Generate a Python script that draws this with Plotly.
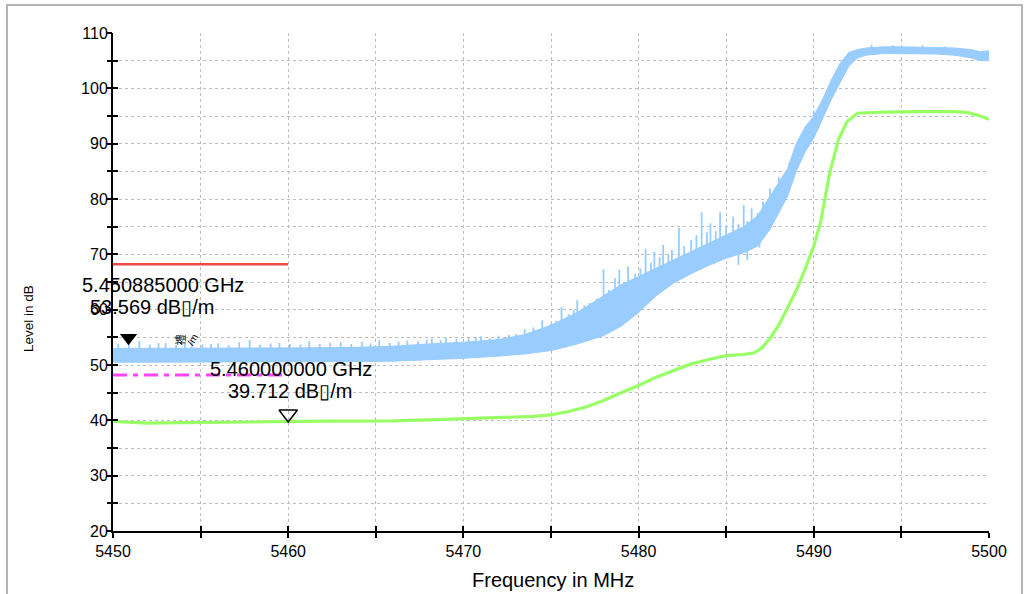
import numpy as np
import plotly.graph_objects as go

# ---------------- data ----------------
env_freq = [5450.0, 5452, 5455, 5458, 5461, 5464, 5466, 5468, 5470, 5472, 5473.5,
            5475, 5476.5, 5478, 5479, 5480, 5481, 5482, 5483, 5484, 5485, 5486,
            5486.8, 5487.5, 5488, 5488.5, 5489, 5489.5, 5490, 5490.5, 5491,
            5491.5, 5492, 5492.5, 5493, 5494, 5495, 5496, 5497, 5498, 5499,
            5499.5, 5500]
peak_low = [50.5, 50.5, 50.5, 50.5, 50.5, 50.6, 50.7, 50.9, 51.2, 51.6, 52.0,
            52.6, 53.8, 55.3, 57.0, 59.5, 62.5, 64.8, 66.5, 68.0, 69.3, 70.3,
            71.5, 74.5, 77.5, 80.5, 85.0, 88.5, 91.0, 94.5, 98.0,
            101.0, 104.0, 105.5, 106.0, 106.3, 106.3, 106.3, 106.2, 106.0, 105.5,
            105.0, 105.0]
peak_high = [53.0, 53.0, 53.0, 53.0, 53.1, 53.2, 53.4, 53.8, 54.1, 54.6, 55.5,
             57.2, 59.5, 62.5, 64.5, 66.0, 67.5, 69.0, 70.5, 72.0, 73.5, 75.0,
             77.0, 80.5, 83.0, 85.5, 90.0, 93.0, 95.0, 98.0, 101.5,
             104.5, 106.5, 107.0, 107.3, 107.5, 107.5, 107.4, 107.4, 107.3, 107.0,
             106.6, 106.8]

spike_freq = [5450.3, 5450.9, 5451.5, 5452.1, 5452.6, 5453.0, 5453.6, 5454.1, 5454.5,
              5455.1, 5455.6, 5456.0, 5456.6, 5457.2, 5457.8, 5458.4, 5459.0, 5459.5,
              5460.1, 5460.7, 5461.2, 5461.8, 5462.4, 5463.0, 5463.6, 5464.2, 5464.7,
              5465.2, 5465.8, 5466.3, 5466.8, 5467.4, 5467.9, 5468.2, 5468.7, 5469.0,
              5469.6, 5470.3, 5470.7, 5471.0, 5471.5, 5472.0, 5472.6, 5473.0, 5473.5,
              5474.0, 5474.5, 5475.0, 5475.3, 5475.6, 5476.0, 5476.3, 5476.5, 5476.9,
              5477.2, 5477.6, 5478.0, 5478.3, 5478.65, 5478.9, 5479.2, 5479.4, 5479.8,
              5480.1, 5480.4, 5480.7, 5480.9, 5481.2, 5481.4, 5481.7, 5481.9, 5482.3,
              5482.6, 5483.0, 5483.3, 5483.6, 5483.9, 5484.1, 5484.4, 5484.65, 5485.0,
              5485.4, 5485.7, 5486.0, 5486.2, 5486.45, 5486.8, 5487.1, 5487.5, 5488.0,
              5488.6, 5489.2, 5490.0, 5493.3, 5494.5, 5496.2, 5497.5]
spike_top = [53.8, 54.5, 54.3, 53.7, 54.0, 54.0, 53.6, 53.9, 54.2,
             53.7, 53.8, 53.9, 53.6, 54.1, 54.5, 53.7, 53.9, 54.0,
             53.8, 53.7, 54.3, 53.8, 54.0, 54.1, 53.8, 54.2, 53.9,
             54.5, 54.0, 54.2, 54.4, 54.3, 54.6, 54.8, 54.5, 55.0,
             54.7, 54.9, 55.0, 55.2, 54.9, 55.3, 55.4, 55.6, 56.5,
             56.8, 58.1, 57.5, 58.0, 60.5, 59.2, 60.0, 61.7, 60.8,
             61.2, 62.0, 67.3, 63.6, 65.7, 67.2, 65.0, 67.8, 66.5,
             67.5, 71.0, 68.5, 70.5, 69.5, 71.7, 70.0, 70.8, 74.8,
             71.5, 72.6, 73.5, 77.6, 74.0, 75.6, 74.2, 77.6, 75.0,
             76.8, 75.5, 78.9, 76.0, 78.3, 77.5, 79.5, 81.9, 84.0,
             86.5, 91.0, 96.0, 107.9, 107.8, 107.8, 107.6]
dip_freq = [5484.3, 5485.7, 5486.2, 5486.9]
dip_bottom = [68.2, 68.1, 69.0, 71.2]

avg_freq = [5450, 5451, 5452, 5454, 5456, 5458, 5460, 5462, 5464, 5466, 5468,
            5470, 5472, 5474, 5475, 5476, 5477, 5478, 5479, 5480, 5481, 5482,
            5483, 5484, 5485, 5486, 5486.6, 5487, 5487.5, 5488, 5488.5, 5489,
            5489.5, 5490, 5490.4, 5490.9, 5491.4, 5491.9, 5492.5, 5493, 5494,
            5496, 5498, 5498.8, 5499.5, 5500]
avg_level = [39.8, 39.7, 39.5, 39.6, 39.6, 39.7, 39.8, 39.8, 39.8, 39.9, 40.1,
             40.3, 40.5, 40.7, 41.0, 41.6, 42.4, 43.6, 45.0, 46.3, 47.8, 49.0,
             50.2, 51.0, 51.7, 51.9, 52.2, 53.0, 54.8, 57.2, 60.5, 63.5,
             67.3, 71.5, 76.0, 84.6, 90.7, 94.0, 95.5, 95.6, 95.7,
             95.8, 95.8, 95.6, 95.0, 94.4]

limit_freq = [5450, 5460]
limit_peak = 68.2
limit_avg = 48.2

m1_freq, m1_level = 5450.885, 53.569
m2_freq, m2_level = 5460.0, 39.712
m1_lines = ["5.450885000 GHz", "53.569 dB\u25af/m"]
m2_lines = ["5.460000000 GHz", "39.712 dB\u25af/m"]

x_range = [5450, 5500]
y_range = [20, 110]
x_tick_vals = [5450, 5460, 5470, 5480, 5490, 5500]
y_tick_vals = [20, 30, 40, 50, 60, 70, 80, 90, 100, 110]

# ---------------- styling / layout ----------------
W, H = 1030, 594
ML, MR, MT, MB = 113, 41, 33, 63
PW, PH = W - ML - MR, H - MT - MB
px_per_db = PH / (y_range[1] - y_range[0])

BLUE = "#99ccff"
GREEN = "#99ff66"
FONT = "Liberation Sans, Arial, sans-serif"

fig = go.Figure()

# peak trace drawn as band
fig.add_trace(go.Scatter(x=env_freq, y=peak_low, mode="lines",
                         line=dict(color=BLUE, width=1), hoverinfo="skip"))
fig.add_trace(go.Scatter(x=env_freq, y=peak_high, mode="lines", fill="tonexty",
                         fillcolor=BLUE, line=dict(color=BLUE, width=1),
                         hoverinfo="skip"))
# spikes and dips of the peak trace
sx, sy = [], []
for f, t in zip(spike_freq, spike_top):
    base = float(np.interp(f, env_freq, peak_high))
    sx += [f, f, None]
    sy += [base - 0.5, t, None]
for f, b in zip(dip_freq, dip_bottom):
    base = float(np.interp(f, env_freq, peak_low))
    sx += [f, f, None]
    sy += [base + 0.5, b, None]
fig.add_trace(go.Scatter(x=sx, y=sy, mode="lines", line=dict(color=BLUE, width=1.8),
                         hoverinfo="skip"))

# average trace
fig.add_trace(go.Scatter(x=avg_freq, y=avg_level, mode="lines",
                         line=dict(color=GREEN, width=3.2), hoverinfo="skip"))

# limit lines
fig.add_trace(go.Scatter(x=limit_freq, y=[limit_peak] * 2, mode="lines",
                         line=dict(color="#f04848", width=2.5), hoverinfo="skip"))
fig.add_trace(go.Scatter(x=limit_freq, y=[limit_avg] * 2, mode="lines",
                         line=dict(color="#ff44ff", width=3, dash="14px,6px,5px,6px"),
                         hoverinfo="skip"))

# markers (tip of the triangle on the value)
s1, s2 = 15, 16
fig.add_trace(go.Scatter(x=[m1_freq], y=[m1_level + (s1 / 2) / px_per_db], mode="markers",
                         marker=dict(symbol="triangle-down", size=s1, color="black"),
                         hoverinfo="skip"))
fig.add_trace(go.Scatter(x=[m2_freq], y=[m2_level + (s2 / 2) / px_per_db], mode="markers",
                         marker=dict(symbol="triangle-down-open", size=s2, color="black",
                                     line=dict(width=1.5, color="black")),
                         hoverinfo="skip"))

# dummy trace for overlay axes (crossing ticks)
fig.add_trace(go.Scatter(x=[x_range[0]], y=[y_range[0]], xaxis="x2", yaxis="y2",
                         mode="markers", marker=dict(opacity=0), hoverinfo="skip"))


def paper_x(px):
    return (px - ML) / PW


def paper_y(py):
    return (H - MB - py) / PH


ann = []
tf = dict(family=FONT, size=20, color="black")
ann.append(dict(x=5452.83, y=64.4, xref="x", yref="y", text=m1_lines[0], showarrow=False,
                font=tf, xanchor="center", yanchor="middle"))
ann.append(dict(x=5452.2, y=60.4, xref="x", yref="y", text=m1_lines[1], showarrow=False,
                font=tf, xanchor="center", yanchor="middle"))
ann.append(dict(x=m2_freq, y=49.3, xref="x", yref="y", text=m2_lines[0], showarrow=False,
                font=tf, xanchor="center", yanchor="middle", xshift=3))
ann.append(dict(x=m2_freq, y=45.3, xref="x", yref="y", text=m2_lines[1], showarrow=False,
                font=tf, xanchor="center", yanchor="middle", xshift=2))
# small garbled rotated unit text
ann.append(dict(x=5453.8, y=54.6, xref="x", yref="y", text="禮", showarrow=False,
                xanchor="center", yanchor="middle",
                textangle=-90, font=dict(family="Noto Sans CJK SC", size=11, color="black")))
ann.append(dict(x=5454.55, y=54.6, xref="x", yref="y", text="/m", showarrow=False,
                xanchor="center", yanchor="middle",
                textangle=-60, font=dict(family=FONT, size=10, color="black")))
# axis titles
ann.append(dict(x=paper_x(28), y=paper_y(319), xref="paper", yref="paper", text="Level in dB",
                xanchor="center", yanchor="middle",
                showarrow=False, textangle=-90, font=dict(family=FONT, size=13.5, color="black")))
ann.append(dict(x=paper_x(553), y=paper_y(580), xref="paper", yref="paper",
                xanchor="center", yanchor="middle",
                text="Frequency in MHz", showarrow=False,
                font=dict(family=FONT, size=20, color="black")))

grid = dict(showgrid=True, gridcolor="#bdbdbd", gridwidth=1, griddash="dot")
tick_font = dict(family=FONT, size=16, color="black")

fig.update_layout(
    width=W, height=H, margin=dict(l=ML, r=MR, t=MT, b=MB, pad=0),
    paper_bgcolor="white", plot_bgcolor="white", showlegend=False,
    annotations=ann,
    shapes=[dict(type="rect", xref="paper", yref="paper",
                 x0=paper_x(7), x1=paper_x(1022), y0=paper_y(640), y1=paper_y(5),
                 line=dict(color="#b4b4b4", width=2), fillcolor="rgba(0,0,0,0)",
                 layer="below")],
    xaxis=dict(range=x_range, tickvals=x_tick_vals, ticks="outside", ticklen=5,
               tickwidth=2, tickcolor="black", showline=True, linecolor="black",
               linewidth=2, zeroline=False, tickfont=tick_font,
               minor=dict(dtick=5, ticks="outside", ticklen=5, tickwidth=2,
                          tickcolor="black", **grid),
               **grid),
    yaxis=dict(range=y_range, tickvals=y_tick_vals, ticks="inside", ticklen=5,
               tickwidth=2, tickcolor="black", showline=True, linecolor="black",
               linewidth=2, zeroline=False, tickfont=tick_font,
               minor=dict(dtick=5, ticks="inside", ticklen=5, tickwidth=2,
                          tickcolor="black", **grid),
               **grid),
    xaxis2=dict(range=x_range, overlaying="x", anchor="y2", side="bottom",
                tickvals=x_tick_vals, ticks="inside", ticklen=5, tickwidth=2,
                tickcolor="black", showticklabels=False, showgrid=False,
                showline=False, zeroline=False,
                minor=dict(dtick=5, ticks="inside", ticklen=5, tickwidth=2,
                           tickcolor="black", showgrid=False)),
    yaxis2=dict(range=y_range, overlaying="y", anchor="x2", side="left",
                tickvals=y_tick_vals, ticks="outside", ticklen=5, tickwidth=2,
                tickcolor="black", showticklabels=False, showgrid=False,
                showline=False, zeroline=False,
                minor=dict(dtick=5, ticks="outside", ticklen=5, tickwidth=2,
                           tickcolor="black", showgrid=False)),
)

fig.write_html("out.html")
